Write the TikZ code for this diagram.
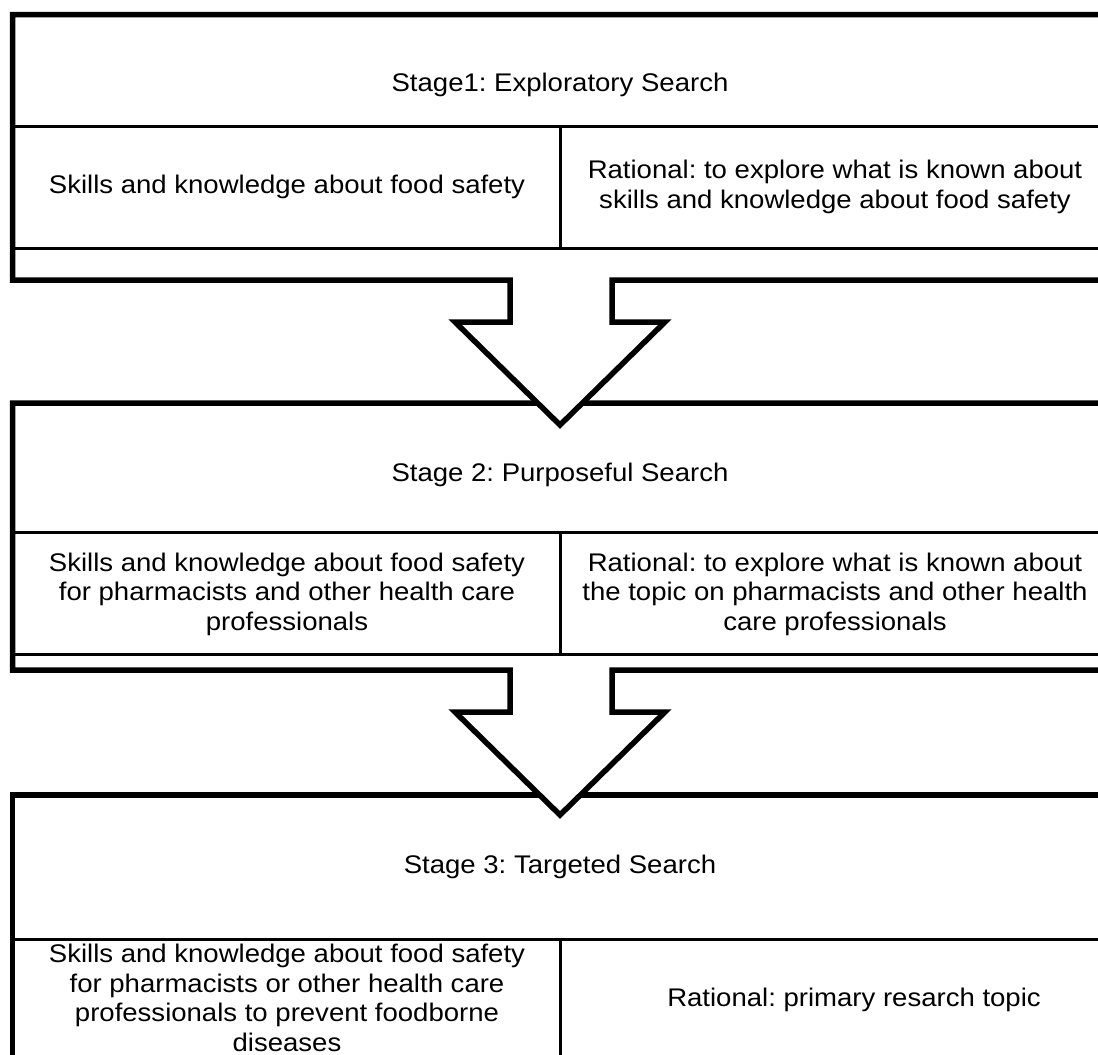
\documentclass[tikz,border=0pt]{standalone}
\usepackage{fontspec}
\setmainfont{Liberation Sans}[FakeStretch=1.08]
\frenchspacing
\begin{document}
\begin{tikzpicture}[x=1pt,y=-1pt,
  frame/.style={line width=5.5pt, fill=white, line join=miter, draw=black},
  rulel/.style={line width=3pt, draw=black},
  celltext/.style={align=center, font=\fontsize{25.5}{29.5}\selectfont, inner sep=0pt, text=black},
]
\useasboundingbox (0,0) rectangle (1098,1055);
\clip (0,0) rectangle (1098,1055);
\fill[white] (0,0) rectangle (1098,1055);
% ---------- Stage 3 ----------
\draw[frame] (12.5,795) -- (1130,795) -- (1130,1100) -- (12.5,1100) -- cycle;
\draw[rulel] (12.5,939) -- (1130,939);
\draw[rulel] (560,939) -- (560,1100);
% ---------- Stage 2 ----------
\draw[frame] (12.5,403) -- (1130,403) -- (1130,670) -- (612,670) -- (612,712) -- (665,712)
  -- (560,815) -- (455,712) -- (510,712) -- (510,670) -- (12.5,670) -- cycle;
\draw[rulel] (12.5,532) -- (1130,532);
\draw[rulel] (12.5,654) -- (1130,654);
\draw[rulel] (560,532) -- (560,654);
% ---------- Stage 1 ----------
\draw[frame] (12.5,14.5) -- (1130,14.5) -- (1130,280) -- (612,280) -- (612,322) -- (665,322)
  -- (560,425) -- (455,322) -- (510,322) -- (510,280) -- (12.5,280) -- cycle;
\draw[rulel] (12.5,126) -- (1130,126);
\draw[rulel] (12.5,248) -- (1130,248);
\draw[rulel] (560,126) -- (560,248);
% ---------- texts ----------
\node[celltext] (s1title) at (560,85) {Stage1: Exploratory Search};
\node[celltext] (s1left) at (287,187) {Skills and knowledge about food safety};
\node[celltext] (s1right) at (835,187) {Rational: to explore what is known about\\skills and knowledge about food safety};
\node[celltext] (s2title) at (560,475) {Stage 2: Purposeful Search};
\node[celltext] (s2left) at (287,594) {Skills and knowledge about food safety\\for pharmacists and other health care\\professionals};
\node[celltext] (s2right) at (835,594) {Rational: to explore what is known about\\the topic on pharmacists and other health\\care professionals};
\node[celltext] (s3title) at (560,867) {Stage 3: Targeted Search};
\node[celltext] (s3left) at (287,998) {Skills and knowledge about food safety\\for pharmacists or other health care\\professionals to prevent foodborne\\diseases};
\node[celltext] (s3right) at (854,1000) {Rational: primary resarch topic};
\end{tikzpicture}
\end{document}
